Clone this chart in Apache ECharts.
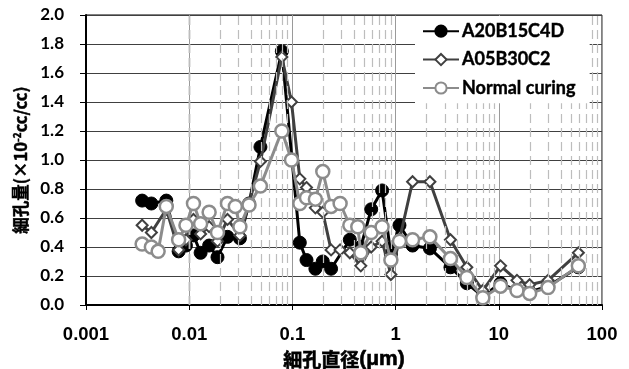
<!DOCTYPE html>
<html>
<head>
<meta charset="utf-8">
<script src="https://cdn.jsdelivr.net/npm/echarts@6/dist/echarts.min.js"></script>
<style>
  html, body { margin: 0; padding: 0; background: #fff; }
  #main { width: 629px; height: 369px; }
</style>
</head>
<body>
<div id="main"></div>
<script>
// pore diameter (um), shared by the three series
var diameters = [0.0035, 0.0043, 0.005, 0.006, 0.0079, 0.0093, 0.011, 0.0129, 0.0156, 0.0188,
  0.0235, 0.028, 0.031, 0.038, 0.049, 0.079, 0.098, 0.118, 0.137, 0.167,
  0.197, 0.237, 0.29, 0.36, 0.43, 0.46, 0.58, 0.74, 0.9, 1.09,
  1.46, 2.15, 3.4, 4.9, 7.0, 10.4, 15, 19.9, 30, 59];
var seriesNames = ['A20B15C4D', 'A05B30C2', 'Normal curing'];
var volA20 = [0.72, 0.70, null, 0.72, 0.37, 0.41, 0.48, 0.36, 0.41, 0.33,
  0.47, null, 0.46, 0.70, 1.09, 1.75, null, 0.43, 0.31, 0.25,
  0.30, 0.25, null, 0.45, null, 0.40, 0.66, 0.79, 0.35, 0.55,
  0.41, 0.39, 0.26, 0.15, 0.06, 0.15, 0.10, 0.09, 0.13, 0.26];
var volA05 = [0.55, 0.50, null, 0.66, 0.38, 0.45, 0.59, 0.49, 0.54, 0.44,
  0.59, null, 0.48, 0.70, 0.99, 1.71, 1.40, 0.87, 0.81, 0.67,
  0.64, 0.38, 0.38, 0.36, null, 0.27, 0.40, 0.44, 0.21, 0.45,
  0.85, 0.85, 0.45, 0.26, 0.10, 0.27, 0.17, 0.14, 0.17, 0.36];
var volNormal = [0.42, 0.40, 0.37, 0.68, 0.45, 0.55, 0.70, 0.56, 0.64, 0.50,
  0.70, 0.68, 0.54, 0.69, 0.82, 1.20, 1.00, 0.70, 0.74, 0.73,
  0.92, 0.68, 0.70, 0.55, 0.54, 0.36, 0.50, 0.54, 0.31, 0.44,
  0.45, 0.47, 0.32, 0.19, 0.05, 0.13, 0.10, 0.08, 0.12, 0.27];
// minor vertical gridlines (2..9 in each decade)
var minorGrid = [];
[0.001, 0.01, 0.1, 1, 10].forEach(function (d) {
  for (var k = 2; k <= 9; k++) minorGrid.push(+(d * k).toPrecision(3));
});

function pairs(vals) {
  return diameters.map(function (d, i) { return [d, vals[i]]; });
}

var myChart = echarts.init(document.getElementById('main'));
var option = {
  animation: false,
  backgroundColor: '#fff',
  grid: {
    left: 86, right: 27, top: 15, bottom: 64, show: true, borderColor: '#000', borderWidth: 1,
    containLabel: false, outerBoundsMode: 'none'
  },
  legend: {
    data: seriesNames,
    orient: 'vertical',
    left: 415,
    top: 16,
    padding: [6, 14, 6, 7],
    itemGap: 10,
    itemWidth: 36,
    itemHeight: 14,
    backgroundColor: '#fff',
    z: 20,
    textStyle: {
      fontFamily: 'Lato', fontWeight: 'bold', fontSize: 18, color: '#000', padding: [0, 0, 0, -2],
      textBorderColor: '#000', textBorderWidth: 0.4
    }
  },
  xAxis: {
    type: 'log',
    logBase: 10,
    min: 0.001,
    max: 100,
    name: '細孔直径{u|(μm)}',
    nameLocation: 'middle',
    nameGap: 38,
    nameTextStyle: {
      fontFamily: 'Noto Sans CJK JP', fontWeight: 'bold', fontSize: 19, color: '#000',
      textBorderColor: '#000', textBorderWidth: 0.6,
      rich: { u: { fontFamily: 'Liberation Sans', fontWeight: 'bold', fontSize: 21, color: '#000' } }
    },
    axisLine: { lineStyle: { color: '#000', width: 2 } },
    axisTick: { show: true, length: 5, lineStyle: { color: '#000' } },
    axisLabel: {
      margin: 20, fontFamily: 'Liberation Sans', fontWeight: 'bold', fontSize: 18.5, color: '#000',
      formatter: function (v) { return String(+v.toPrecision(3)); }
    },
    splitLine: { show: true, lineStyle: { color: '#9a9a9a', width: 1 } }
  },
  yAxis: {
    type: 'value',
    min: 0,
    max: 2,
    interval: 0.2,
    name: '細孔量(×10{sup|-2}cc/cc)',
    nameLocation: 'middle',
    nameGap: 52,
    nameTextStyle: {
      fontFamily: 'Noto Sans CJK JP', fontWeight: 'bold', fontSize: 16.5, color: '#000',
      textBorderColor: '#000', textBorderWidth: 0.5,
      rich: { sup: { fontSize: 10, fontWeight: 'bold', color: '#000', verticalAlign: 'top', padding: [0, 0, 8, 0] } }
    },
    axisLine: { show: true, lineStyle: { color: '#000', width: 2 } },
    axisTick: { show: true, length: 6, lineStyle: { color: '#000' } },
    axisLabel: {
      margin: 22, fontFamily: 'Lato', fontWeight: 'bold', fontSize: 17, color: '#000',
      formatter: function (v) { return v.toFixed(1); }
    },
    splitLine: { show: true, lineStyle: { color: '#404040', width: 1.2 } }
  },
  series: [
    {
      name: 'minor',
      type: 'line',
      data: [],
      z: 0,
      silent: true,
      markLine: {
        silent: true,
        symbol: 'none',
        label: { show: false },
        lineStyle: { color: '#bdbdbd', type: [9, 5], width: 1.2 },
        data: minorGrid.map(function (v) { return { xAxis: v }; })
      }
    },
    {
      name: seriesNames[0],
      type: 'line',
      data: pairs(volA20),
      connectNulls: true,
      symbol: 'circle',
      symbolSize: 13,
      lineStyle: { color: '#000', width: 3 },
      itemStyle: { color: '#000', borderColor: '#000', borderWidth: 1 },
      z: 3
    },
    {
      name: seriesNames[1],
      type: 'line',
      data: pairs(volA05),
      connectNulls: true,
      symbol: 'diamond',
      symbolSize: 11,
      lineStyle: { color: '#404040', width: 3 },
      itemStyle: { color: '#fff', borderColor: '#404040', borderWidth: 2 },
      z: 4
    },
    {
      name: seriesNames[2],
      type: 'line',
      data: pairs(volNormal),
      connectNulls: true,
      symbol: 'circle',
      symbolSize: 13,
      lineStyle: { color: '#8c8c8c', width: 3 },
      itemStyle: { color: '#fff', borderColor: '#8c8c8c', borderWidth: 2.5 },
      z: 5
    }
  ]
};
myChart.setOption(option);
</script>
</body>
</html>
